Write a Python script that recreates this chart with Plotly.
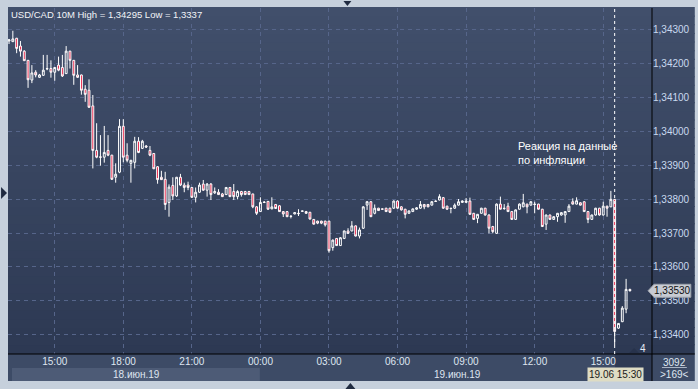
import pandas as pd
import plotly.graph_objects as go

# ---------------- data (USD/CAD, 10-minute candles) ----------------
start_time = "2019-06-18 13:00"
bar_minutes = 10

opens = [
    1.34265, 1.34263, 1.34273, 1.34250, 1.34235, 1.34208, 1.34150, 1.34173, 1.34158, 1.34164,
    1.34184, 1.34184, 1.34173, 1.34194, 1.34187, 1.34169, 1.34235, 1.34208, 1.34165, 1.34165,
    1.34123, 1.34120, 1.34074, 1.33943, 1.33924, 1.33923, 1.33943, 1.33929, 1.33864, 1.33879,
    1.34014, 1.33929, 1.33905, 1.33908, 1.33970, 1.33949, 1.33956, 1.33943, 1.33934, 1.33895,
    1.33864, 1.33858, 1.33790, 1.33840, 1.33809, 1.33864, 1.33841, 1.33841, 1.33834, 1.33805,
    1.33820, 1.33844, 1.33826, 1.33844, 1.33818, 1.33820, 1.33815, 1.33813, 1.33834, 1.33822,
    1.33807, 1.33822, 1.33822, 1.33822, 1.33815, 1.33777, 1.33763, 1.33791, 1.33793, 1.33771,
    1.33784, 1.33780, 1.33763, 1.33763, 1.33750, 1.33756, 1.33758, 1.33765, 1.33763, 1.33761,
    1.33740, 1.33735, 1.33735, 1.33735, 1.33735, 1.33657, 1.33684, 1.33663, 1.33684, 1.33706,
    1.33706, 1.33721, 1.33691, 1.33714, 1.33782, 1.33792, 1.33758, 1.33773, 1.33771, 1.33773,
    1.33773, 1.33773, 1.33794, 1.33777, 1.33770, 1.33758, 1.33763, 1.33770, 1.33773, 1.33784,
    1.33784, 1.33782, 1.33794, 1.33797, 1.33804, 1.33779, 1.33773, 1.33773, 1.33782, 1.33790,
    1.33790, 1.33794, 1.33758, 1.33743, 1.33758, 1.33773, 1.33753, 1.33719, 1.33699, 1.33785,
    1.33773, 1.33779, 1.33763, 1.33740, 1.33770, 1.33777, 1.33785, 1.33782, 1.33785, 1.33785,
    1.33770, 1.33726, 1.33753, 1.33740, 1.33748, 1.33753, 1.33753, 1.33763, 1.33792, 1.33785,
    1.33789, 1.33792, 1.33763, 1.33740, 1.33753, 1.33773, 1.33753, 1.33779, 1.33777, 1.33799,
    1.33420, 1.33439, 1.33476, 1.33534,
]
highs = [
    1.34271, 1.34295, 1.34274, 1.34265, 1.34238, 1.34209, 1.34194, 1.34179, 1.34168, 1.34224,
    1.34224, 1.34208, 1.34188, 1.34219, 1.34224, 1.34250, 1.34236, 1.34209, 1.34194, 1.34166,
    1.34135, 1.34152, 1.34106, 1.34023, 1.33988, 1.34015, 1.33988, 1.33930, 1.33905, 1.34035,
    1.34035, 1.33964, 1.33915, 1.33983, 1.33982, 1.33974, 1.33959, 1.33956, 1.33935, 1.33897,
    1.33883, 1.33880, 1.33843, 1.33864, 1.33865, 1.33874, 1.33848, 1.33851, 1.33835, 1.33834,
    1.33848, 1.33856, 1.33847, 1.33847, 1.33834, 1.33829, 1.33818, 1.33835, 1.33835, 1.33844,
    1.33826, 1.33824, 1.33824, 1.33824, 1.33815, 1.33779, 1.33805, 1.33794, 1.33794, 1.33805,
    1.33785, 1.33782, 1.33764, 1.33764, 1.33751, 1.33761, 1.33770, 1.33766, 1.33765, 1.33762,
    1.33741, 1.33736, 1.33736, 1.33736, 1.33736, 1.33681, 1.33685, 1.33688, 1.33707, 1.33714,
    1.33735, 1.33722, 1.33716, 1.33779, 1.33794, 1.33794, 1.33784, 1.33774, 1.33772, 1.33774,
    1.33774, 1.33796, 1.33796, 1.33779, 1.33771, 1.33766, 1.33772, 1.33776, 1.33794, 1.33785,
    1.33785, 1.33794, 1.33796, 1.33814, 1.33806, 1.33780, 1.33774, 1.33787, 1.33800, 1.33796,
    1.33803, 1.33804, 1.33759, 1.33756, 1.33774, 1.33774, 1.33755, 1.33721, 1.33787, 1.33807,
    1.33785, 1.33789, 1.33764, 1.33769, 1.33787, 1.33815, 1.33786, 1.33794, 1.33792, 1.33786,
    1.33771, 1.33754, 1.33754, 1.33749, 1.33759, 1.33761, 1.33764, 1.33785, 1.33802, 1.33805,
    1.33790, 1.33793, 1.33764, 1.33754, 1.33774, 1.33774, 1.33792, 1.33780, 1.33824, 1.33800,
    1.33435, 1.33485, 1.33565, 1.33536,
]
lows = [
    1.34256, 1.34262, 1.34229, 1.34219, 1.34206, 1.34127, 1.34141, 1.34158, 1.34156, 1.34162,
    1.34179, 1.34157, 1.34148, 1.34176, 1.34159, 1.34168, 1.34184, 1.34136, 1.34156, 1.34107,
    1.34086, 1.34068, 1.33890, 1.33920, 1.33898, 1.33907, 1.33926, 1.33856, 1.33848, 1.33876,
    1.33908, 1.33908, 1.33848, 1.33890, 1.33935, 1.33947, 1.33950, 1.33926, 1.33888, 1.33845,
    1.33856, 1.33768, 1.33748, 1.33797, 1.33806, 1.33838, 1.33820, 1.33826, 1.33803, 1.33790,
    1.33818, 1.33824, 1.33807, 1.33797, 1.33815, 1.33812, 1.33806, 1.33812, 1.33806, 1.33797,
    1.33799, 1.33807, 1.33812, 1.33812, 1.33773, 1.33753, 1.33762, 1.33788, 1.33768, 1.33770,
    1.33771, 1.33762, 1.33747, 1.33747, 1.33743, 1.33755, 1.33750, 1.33763, 1.33756, 1.33740,
    1.33725, 1.33726, 1.33726, 1.33719, 1.33642, 1.33648, 1.33662, 1.33662, 1.33682, 1.33697,
    1.33705, 1.33690, 1.33684, 1.33712, 1.33768, 1.33747, 1.33755, 1.33765, 1.33769, 1.33762,
    1.33759, 1.33771, 1.33771, 1.33766, 1.33743, 1.33757, 1.33762, 1.33768, 1.33771, 1.33770,
    1.33776, 1.33781, 1.33792, 1.33796, 1.33771, 1.33768, 1.33758, 1.33771, 1.33781, 1.33789,
    1.33789, 1.33754, 1.33739, 1.33729, 1.33757, 1.33751, 1.33699, 1.33699, 1.33698, 1.33769,
    1.33768, 1.33762, 1.33739, 1.33739, 1.33769, 1.33776, 1.33758, 1.33781, 1.33758, 1.33769,
    1.33718, 1.33709, 1.33739, 1.33739, 1.33733, 1.33751, 1.33730, 1.33762, 1.33784, 1.33784,
    1.33781, 1.33762, 1.33729, 1.33739, 1.33751, 1.33751, 1.33751, 1.33748, 1.33776, 1.33370,
    1.33418, 1.33438, 1.33464, 1.33528,
]
closes = [
    1.34268, 1.34271, 1.34243, 1.34235, 1.34207, 1.34151, 1.34171, 1.34165, 1.34165, 1.34179,
    1.34183, 1.34173, 1.34187, 1.34179, 1.34162, 1.34235, 1.34208, 1.34164, 1.34158, 1.34120,
    1.34108, 1.34070, 1.33943, 1.33923, 1.33923, 1.33937, 1.33929, 1.33858, 1.33873, 1.34014,
    1.33923, 1.33914, 1.33914, 1.33970, 1.33937, 1.33970, 1.33953, 1.33929, 1.33889, 1.33857,
    1.33857, 1.33784, 1.33835, 1.33809, 1.33864, 1.33841, 1.33834, 1.33834, 1.33805, 1.33820,
    1.33841, 1.33826, 1.33844, 1.33813, 1.33822, 1.33813, 1.33807, 1.33834, 1.33807, 1.33807,
    1.33822, 1.33813, 1.33813, 1.33813, 1.33777, 1.33758, 1.33790, 1.33790, 1.33770, 1.33777,
    1.33772, 1.33763, 1.33756, 1.33748, 1.33749, 1.33760, 1.33757, 1.33764, 1.33758, 1.33741,
    1.33726, 1.33729, 1.33729, 1.33724, 1.33648, 1.33679, 1.33663, 1.33686, 1.33706, 1.33699,
    1.33721, 1.33691, 1.33709, 1.33777, 1.33792, 1.33748, 1.33773, 1.33766, 1.33770, 1.33763,
    1.33761, 1.33794, 1.33773, 1.33768, 1.33755, 1.33765, 1.33771, 1.33774, 1.33784, 1.33777,
    1.33777, 1.33792, 1.33793, 1.33807, 1.33773, 1.33770, 1.33772, 1.33782, 1.33792, 1.33794,
    1.33794, 1.33755, 1.33740, 1.33755, 1.33773, 1.33753, 1.33714, 1.33704, 1.33785, 1.33770,
    1.33772, 1.33763, 1.33740, 1.33768, 1.33785, 1.33789, 1.33777, 1.33792, 1.33784, 1.33770,
    1.33719, 1.33753, 1.33740, 1.33748, 1.33758, 1.33760, 1.33763, 1.33779, 1.33785, 1.33795,
    1.33782, 1.33763, 1.33740, 1.33753, 1.33773, 1.33753, 1.33779, 1.33773, 1.33799, 1.33410,
    1.33434, 1.33479, 1.33534, 1.33530,
]

title_text = "USD/CAD 10M High = 1,34295 Low = 1,3337"
event_time = "2019-06-19 15:30"
event_text = "Реакция на данные<br>по инфляции"
date_labels = ["18.июн.19", "19.июн.19"]
cursor_label = "19.06 15:30"
corner_labels = ["3092", ">169<"]
bars_after_event = "4"

times = pd.date_range(start_time, periods=len(opens), freq=f"{bar_minutes}min")

# ---------------- geometry helpers (pixel -> paper) ----------------
W, H = 698, 389
ML, MR, MT, MB = 8, 43, 8, 35
PW, PH = W - ML - MR, H - MT - MB
Y_LO, Y_HI = 1.33344, 1.34362


def px(x):
    return (x - ML) / PW


def py(y):
    return (H - MB - y) / PH


XR = px(W)          # right edge of the right-hand price panel
YB = py(381)        # bottom of the time panel

FONT = "Liberation Sans, Arial, sans-serif"

fig = go.Figure()
fig.add_trace(go.Candlestick(
    x=times, open=opens, high=highs, low=lows, close=closes,
    increasing=dict(line=dict(color="#ffffff", width=1), fillcolor="rgba(0,0,0,0)"),
    decreasing=dict(line=dict(color="#ffffff", width=1), fillcolor="#e8133b"),
    whiskerwidth=0, hoverinfo="none", showlegend=False,
))

shapes = []
# vertical background gradient (plot area + price panel)
N = 40
top_c = (0x41, 0x4f, 0x6b)
bot_c = (0x2d, 0x39, 0x53)
for k in range(N):
    t = (k + 0.5) / N
    c = tuple(int(round(bot_c[i] + (top_c[i] - bot_c[i]) * t)) for i in range(3))
    shapes.append(dict(type="rect", xref="paper", yref="paper", x0=0, x1=XR,
                       y0=k / N, y1=(k + 1) / N + 0.003,
                       fillcolor="rgb(%d,%d,%d)" % c, line_width=0, layer="below"))
# time panel
shapes.append(dict(type="rect", xref="paper", yref="paper", x0=0, x1=XR, y0=YB, y1=0,
                   fillcolor="#3d4b66", line_width=0, layer="below"))
shapes.append(dict(type="rect", xref="paper", yref="paper", x0=px(12), x1=px(261),
                   y0=YB, y1=py(368), fillcolor="#4d5b76", line_width=0, layer="below"))
shapes.append(dict(type="rect", xref="paper", yref="paper", x0=px(618), x1=1, y0=YB, y1=0,
                   fillcolor="#2e3a54", line_width=0, layer="below"))
# black panel separators
shapes.append(dict(type="line", xref="paper", yref="paper", x0=1, x1=1, y0=YB, y1=1,
                   line=dict(color="#000000", width=1)))
shapes.append(dict(type="line", xref="paper", yref="paper", x0=0, x1=XR, y0=0, y1=0,
                   line=dict(color="#000000", width=1)))
# event marker (dotted vertical line)
shapes.append(dict(type="line", xref="x", yref="paper", x0=event_time, x1=event_time,
                   y0=0, y1=1, line=dict(color="#ffffff", width=1, dash="dot")))
# current-price tag on the price scale
yc = closes[-1]
hh = 6.5 * (Y_HI - Y_LO) / PH
shapes.append(dict(type="path", xref="paper", yref="y",
                   path=f"M {px(651)},{yc} L {px(657)},{yc + hh} L {px(694)},{yc + hh} "
                        f"L {px(694)},{yc - hh} L {px(657)},{yc - hh} Z",
                   fillcolor="#c7cbd3", line=dict(color="#9aa0aa", width=1)))
# little scroll arrows in the frame
shapes.append(dict(type="path", xref="paper", yref="paper",
                   path=f"M {px(345)},{py(1)} L {px(353)},{py(1)} L {px(349)},{py(6)} Z",
                   fillcolor="#1f2a40", line_width=0))
shapes.append(dict(type="path", xref="paper", yref="paper",
                   path=f"M {px(347)},{py(389)} L {px(357)},{py(389)} L {px(352)},{py(383)} Z",
                   fillcolor="#1f2a40", line_width=0))
shapes.append(dict(type="path", xref="paper", yref="paper",
                   path=f"M {px(1)},{py(187)} L {px(1)},{py(199)} L {px(7)},{py(193)} Z",
                   fillcolor="#1f2a40", line_width=0))
shapes.append(dict(type="path", xref="paper", yref="paper",
                   path=f"M {px(632)},{py(353)} L {px(642)},{py(353)} L {px(637)},{py(348)} Z",
                   fillcolor="#27324b", line_width=0))
# underline in the corner box
shapes.append(dict(type="line", xref="paper", yref="paper", x0=px(665), x1=px(690),
                   y0=py(367.5), y1=py(367.5), line=dict(color="#aab4c4", width=1)))

annotations = [
    dict(text=title_text, xref="paper", yref="paper", x=px(9), y=py(15),
         xanchor="left", yanchor="middle", showarrow=False,
         font=dict(family=FONT, size=9.5, color="#f2f4f8")),
    dict(text=event_text, xref="paper", yref="paper", x=px(518), y=py(152.5),
         xanchor="left", yanchor="middle", align="left", showarrow=False,
         font=dict(family=FONT, size=11, color="#ffffff")),
    dict(text=f"{closes[-1]:.5f}".replace(".", ","), xref="paper", yref="y",
         x=px(675.5), y=yc, xanchor="center", yanchor="middle", showarrow=False,
         font=dict(family=FONT, size=10, color="#111111")),
    dict(text=date_labels[0], xref="paper", yref="paper", x=px(137), y=py(374.5),
         xanchor="center", yanchor="middle", showarrow=False,
         font=dict(family=FONT, size=10, color="#dfe6f1")),
    dict(text=date_labels[1], xref="paper", yref="paper", x=px(460), y=py(374.5),
         xanchor="center", yanchor="middle", showarrow=False,
         font=dict(family=FONT, size=10, color="#dfe6f1")),
    dict(text=cursor_label, xref="paper", yref="paper", x=px(618), y=py(374.5),
         xanchor="center", yanchor="middle", showarrow=False, bgcolor="#dedcc4",
         borderpad=1, font=dict(family=FONT, size=10, color="#1a1a1a")),
    dict(text=corner_labels[0], xref="paper", yref="paper", x=px(678), y=py(362),
         xanchor="center", yanchor="middle", showarrow=False,
         font=dict(family=FONT, size=10, color="#dfe6f1")),
    dict(text=corner_labels[1], xref="paper", yref="paper", x=px(678), y=py(374.5),
         xanchor="center", yanchor="middle", showarrow=False,
         font=dict(family=FONT, size=10, color="#dfe6f1")),
    dict(text=bars_after_event, xref="paper", yref="paper", x=px(646), y=py(348),
         xanchor="center", yanchor="middle", showarrow=False,
         font=dict(family=FONT, size=10, color="#e6ecf5")),
]

x_start = times[0] - pd.Timedelta(minutes=bar_minutes * 0.27)
x_end = times[0] + pd.Timedelta(minutes=bar_minutes * 168.8)

fig.update_layout(
    width=W, height=H,
    margin=dict(l=ML, r=MR, t=MT, b=MB, pad=0),
    paper_bgcolor="#c6d0dc",
    plot_bgcolor="#37445f",
    separators=", ",
    showlegend=False,
    shapes=shapes,
    annotations=annotations,
    xaxis=dict(
        type="date", range=[x_start, x_end],
        rangeslider=dict(visible=False),
        tick0="2019-06-18 00:00", dtick=3 * 3600 * 1000, tickformat="%H:%M",
        showgrid=True, gridcolor="#56658a", griddash="4px,4px", gridwidth=1,
        showline=False, zeroline=False, ticks="",
        tickfont=dict(family=FONT, size=10, color="#dfe6f1"),
    ),
    yaxis=dict(
        side="right", range=[Y_LO, Y_HI],
        tick0=1.334, dtick=0.001, tickformat=".5f",
        showgrid=True, gridcolor="#56658a", griddash="4px,4px", gridwidth=1,
        showline=False, zeroline=False, ticks="",
        tickfont=dict(family=FONT, size=10, color="#c9d9ef"),
    ),
)

fig.write_html(
    "out.html",
    config={"displayModeBar": False, "staticPlot": True},
    post_script="document.body.style.margin='0';document.body.style.padding='0';"
                "document.body.style.overflow='hidden';",
)
